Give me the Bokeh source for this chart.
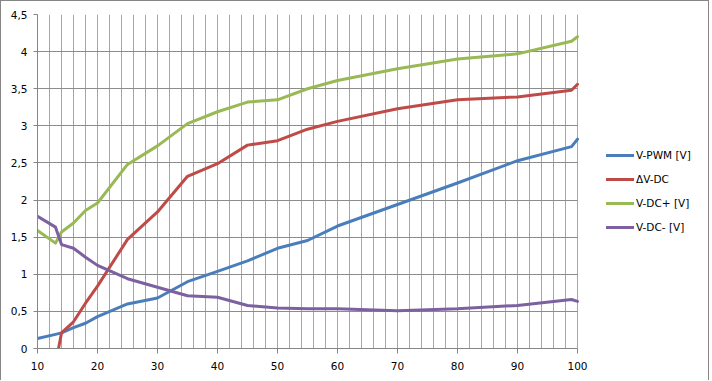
from bokeh.plotting import figure
from bokeh.models import FixedTicker, CustomJSTickFormatter, Legend, LegendItem, Range1d, Grid
from bokeh.embed import file_html
from bokeh.resources import INLINE

# ---- data ----
x_vals = [10, 13, 14, 16, 18, 20, 25, 30, 35, 40, 45, 50, 55, 60, 70, 80, 90, 99, 100]
v_pwm = [0.135, 0.19, 0.21, 0.28, 0.34, 0.43, 0.60, 0.68, 0.90, 1.04, 1.18, 1.35, 1.455, 1.65, 1.94, 2.23, 2.53, 2.72, 2.82]
dv_dc = [-0.19, -0.21, 0.21, 0.36, 0.61, 0.84, 1.47, 1.84, 2.32, 2.49, 2.74, 2.80, 2.955, 3.06, 3.23, 3.35, 3.39, 3.48, 3.56]
v_dc_plus = [1.59, 1.42, 1.57, 1.69, 1.86, 1.96, 2.48, 2.73, 3.03, 3.19, 3.32, 3.35, 3.50, 3.61, 3.77, 3.90, 3.97, 4.14, 4.20]
v_dc_minus = [1.78, 1.635, 1.40, 1.35, 1.23, 1.12, 0.94, 0.825, 0.71, 0.69, 0.58, 0.545, 0.535, 0.535, 0.51, 0.535, 0.58, 0.66, 0.635]

series_names = ["V-PWM [V]", "\u0394V-DC", "V-DC+ [V]", "V-DC- [V]"]
series_colors = ["#4A7EBB", "#BE4B48", "#98B954", "#7D60A0"]
series_values = [v_pwm, dv_dc, v_dc_plus, v_dc_minus]

x_major_ticks = [10, 20, 30, 40, 50, 60, 70, 80, 90, 100]
x_minor_ticks = list(range(10, 101, 2))
y_ticks = [0, 0.5, 1, 1.5, 2, 2.5, 3, 3.5, 4, 4.5]
x_min, x_max = 10, 100
y_min, y_max = 0, 4.5

FONT = "DejaVu Sans"
FSIZE = "10.5px"
BORDER = "1px solid #868686"

# frame is widened to the right (x up to 121) so the legend can sit beside the data area;
# axis / grids are bounded to 10..100
p = figure(
    width=709, height=380,
    x_range=Range1d(x_min, 121), y_range=Range1d(y_min, y_max),
    output_backend="svg", toolbar_location=None,
    min_border_left=36, min_border_right=7, min_border_top=13, min_border_bottom=33,
    styles={"border-left": BORDER, "border-top": BORDER, "border-right": BORDER},
)
p.outline_line_color = None
p.background_fill_color = "white"
p.border_fill_color = "white"

# axes
p.xaxis.ticker = FixedTicker(ticks=x_major_ticks, minor_ticks=x_minor_ticks)
p.xaxis.bounds = (x_min, x_max)
p.yaxis.ticker = FixedTicker(ticks=y_ticks)
p.yaxis.formatter = CustomJSTickFormatter(code="return String(tick).replace('.', ',');")
for ax in (p.xaxis[0], p.yaxis[0]):
    ax.axis_line_color = "#868686"
    ax.major_tick_line_color = "#868686"
    ax.minor_tick_line_color = None
    ax.major_tick_in = 0
    ax.minor_tick_in = 0
    ax.minor_tick_out = 0
    ax.major_label_text_font = FONT
    ax.major_label_text_font_size = FSIZE
    ax.major_label_text_color = "black"
p.xaxis.major_tick_out = 5
p.yaxis.major_tick_out = 4
p.xaxis.major_label_standoff = 8
p.yaxis.major_label_standoff = 6

# grids
p.xgrid.ticker = FixedTicker(ticks=x_major_ticks, minor_ticks=x_minor_ticks)
p.xgrid.grid_line_color = "#A6A6A6"
p.xgrid.minor_grid_line_color = "#A6A6A6"
p.ygrid.ticker = FixedTicker(ticks=y_ticks)
p.ygrid.grid_line_color = "#8C8C8C"
if "cross_bounds" in Grid.properties():
    p.ygrid.cross_bounds = (x_min, x_max)
else:
    p.ygrid.grid_line_color = None
    p.segment(x0=[x_min] * len(y_ticks), x1=[x_max] * len(y_ticks), y0=y_ticks, y1=y_ticks,
              line_color="#8C8C8C", line_width=1, level="underlay")

items = []
for name, color, vals in zip(series_names, series_colors, series_values):
    r = p.line(x_vals, vals, line_color=color, line_width=3, line_join="round", line_cap="round")
    items.append(LegendItem(label=name, renderers=[r]))

legend = Legend(items=items, location=(569, 111))
legend.border_line_color = None
legend.background_fill_alpha = 0
legend.padding = 0
legend.margin = 0
legend.spacing = 4
legend.glyph_width = 28
legend.glyph_height = 20
legend.label_height = 20
legend.label_standoff = 2
legend.label_text_font = FONT
legend.label_text_font_size = FSIZE
legend.label_text_color = "black"
p.add_layout(legend)

open("out.html", "w").write(file_html(p, INLINE))
